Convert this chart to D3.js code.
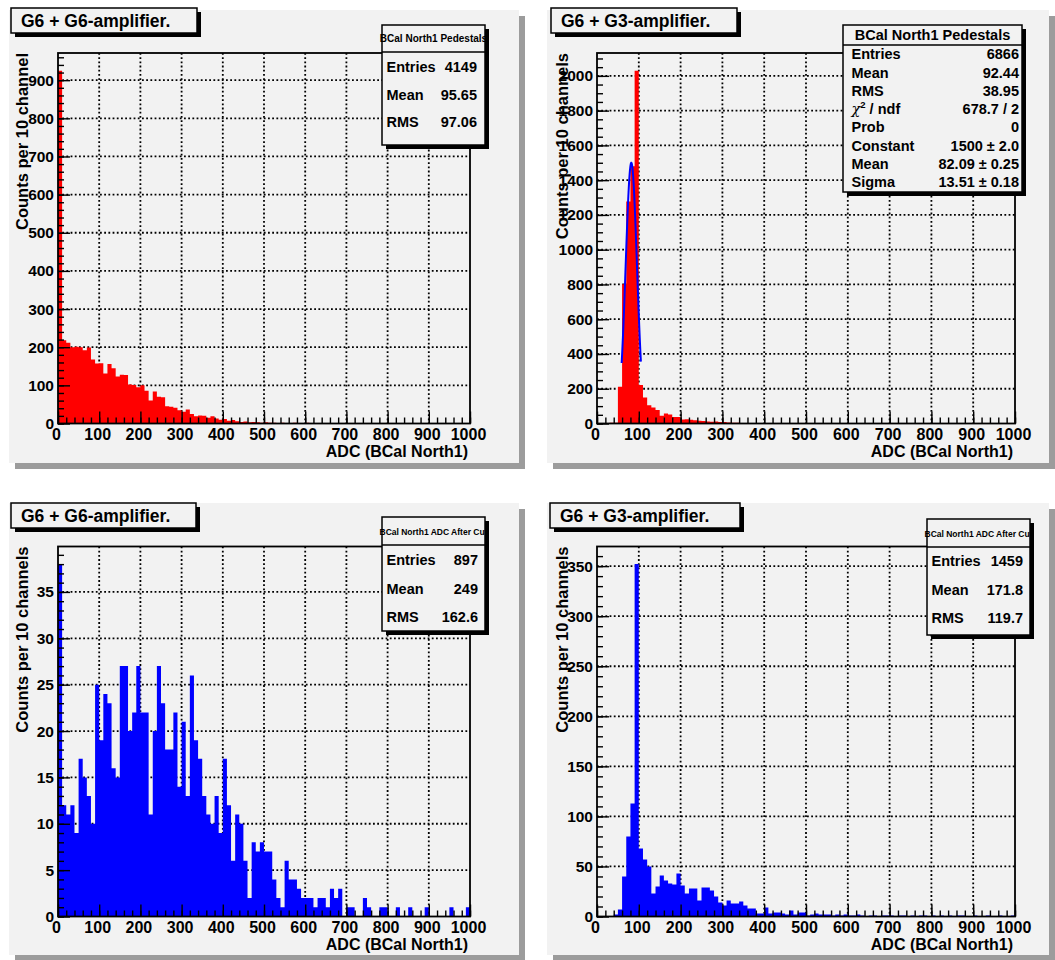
<!DOCTYPE html>
<html>
<head>
<meta charset="utf-8">
<script src="https://cdn.jsdelivr.net/npm/d3@7"></script>
<style>
  body { margin: 0; background: #fff; }
  svg text { font-family: "Liberation Sans", Arial, Helvetica, sans-serif; font-weight: bold; fill: #000; }
</style>
</head>
<body>
<svg id="c" width="1055" height="960"></svg>
<script>
// ---- data: ADC histograms, counts per 10 channels, bins 0..1000 ----
const binLow = d3.range(0, 1000, 10);

const pedestalG6 = [
  925, 218, 212, 200, 201, 200, 192, 199, 168, 157,
  158, 131, 156, 145, 123, 128, 127, 102, 101, 95,
  100, 86, 60, 84, 70, 69, 45, 44, 41, 35,
  31, 37, 25, 19, 21, 20, 15, 19, 13, 10,
  12, 7, 9, 6, 4, 5, 3, 4, 3, 2,
  3, 2, 2, 1, 2, 1, 1, 2, 1, 1,
  2, 1, 0, 1, 1, 0, 1, 0, 0, 0,
  0, 0, 0, 0, 0, 0, 0, 0, 0, 0,
  0, 0, 0, 0, 0, 0, 0, 0, 0, 0,
  0, 0, 0, 0, 0, 0, 0, 0, 0, 0
];

const pedestalG3 = [
  2, 3, 3, 4, 5, 211, 801, 1277, 1480, 2030,
  221, 150, 105, 92, 77, 44, 57, 52, 37, 37,
  23, 25, 22, 18, 16, 14, 12, 10, 11, 9,
  8, 6, 5, 4, 3, 3, 2, 2, 1, 1,
  1, 1, 0, 1, 0, 0, 1, 0, 0, 0,
  0, 0, 0, 0, 0, 0, 0, 0, 0, 0,
  0, 0, 0, 0, 0, 0, 0, 0, 0, 0,
  0, 0, 0, 0, 0, 0, 0, 0, 0, 0,
  0, 0, 0, 0, 0, 0, 0, 0, 0, 0,
  0, 0, 0, 0, 0, 0, 0, 0, 0, 0
];

const afterCutG6 = [
  38, 12, 11, 12, 9, 17, 15, 13, 10, 25,
  19, 24, 23, 16, 15, 27, 27, 20, 22, 27,
  22, 22, 11, 20, 27, 23, 18, 18, 22, 14,
  21, 13, 26, 19, 17, 13, 11, 10, 13, 9,
  17, 12, 6, 11, 10, 6, 2, 8, 7, 8,
  7, 7, 4, 2, 1, 6, 4, 4, 3, 2,
  2, 2, 1, 2, 2, 1, 3, 2, 3, 0,
  1, 1, 0, 0, 2, 1, 0, 0, 1, 1,
  0, 0, 1, 0, 0, 1, 0, 0, 0, 1,
  0, 0, 0, 0, 0, 1, 0, 0, 0, 1
];

const afterCutG3 = [
  0, 0, 0, 0, 2, 7, 40, 80, 113, 352,
  68, 57, 50, 23, 30, 41, 36, 33, 32, 43,
  31, 23, 28, 28, 16, 29, 29, 26, 20, 14,
  11, 16, 13, 13, 15, 11, 8, 8, 3, 3,
  9, 3, 4, 4, 3, 2, 6, 2, 4, 4,
  1, 2, 3, 2, 2, 2, 1, 2, 1, 2,
  1, 1, 2, 1, 0, 1, 1, 0, 1, 1,
  1, 0, 1, 1, 0, 1, 0, 1, 1, 0,
  1, 0, 1, 0, 1, 0, 1, 1, 0, 0,
  1, 0, 0, 1, 0, 0, 1, 0, 0, 1
];

// Gaussian fit to the G3 pedestal peak
const fitConstant = 1500, fitMean = 82.09, fitSigma = 13.51;
const fitRange = [59, 105];

// ---- text ----
const padTitles = ["G6 + G6-amplifier.", "G6 + G3-amplifier.", "G6 + G6-amplifier.", "G6 + G3-amplifier."];
const statTitles = ["BCal North1 Pedestals", "BCal North1 Pedestals", "BCal North1 ADC After Cut", "BCal North1 ADC After Cut"];
const yTitles = ["Counts per 10 channel", "Counts per 10 channels", "Counts per 10 channels", "Counts per 10 channels"];
const xTitle = "ADC (BCal North1)";
const xTickValues = d3.range(0, 1001, 100);

const statsPedG6 = [["Entries", "4149"], ["Mean", "95.65"], ["RMS", "97.06"]];
const statsPedG3 = [["Entries", "6866"], ["Mean", "92.44"], ["RMS", "38.95"], ["chi2", "678.7 / 2"],
                    ["Prob", "0"], ["Constant", "1500 \u00b1 2.0"], ["Mean", "82.09 \u00b1 0.25"], ["Sigma", "13.51 \u00b1 0.18"]];
const statsCutG6 = [["Entries", "897"], ["Mean", "249"], ["RMS", "162.6"]];
const statsCutG3 = [["Entries", "1459"], ["Mean", "171.8"], ["RMS", "119.7"]];

// ---- page geometry (2x2 canvas) ----
const padFill = "#f2f2f2";
const layout = [
  { pad: [9, 10, 519, 463], frame: [58, 53, 470, 423.5], yTitleX: 28,
    titleBox: [11, 8, 197, 33],
    stat: { box: [382, 25, 485, 145], titleSize: 10, titleBase: 41.5, lineY: 52, rows: [67, 95, 122], labelX: 386.5, valueX: 477 } },
  { pad: [547, 10, 1049, 463], frame: [597, 53, 1015, 423.5], yTitleX: 568,
    titleBox: [551, 8, 737, 33],
    stat: { box: [843, 25, 1022, 192], titleSize: 14.5, titleBase: 40, lineY: 45,
            rows: [54, 72.7, 91, 108.7, 127.3, 146.3, 164, 182], labelX: 851.5, valueX: 1019 } },
  { pad: [9, 503, 519, 955], frame: [58, 546.5, 470, 916.5], yTitleX: 28,
    titleBox: [11, 503, 196, 528],
    stat: { box: [382, 517, 485, 631], titleSize: 8.5, titleBase: 535, lineY: 545, rows: [560, 589, 617], labelX: 386.5, valueX: 478 } },
  { pad: [547, 503, 1049, 955], frame: [597, 546.5, 1015, 916.5], yTitleX: 568,
    titleBox: [550, 503, 740, 528],
    stat: { box: [927, 519, 1030, 635], titleSize: 8.5, titleBase: 536.5, lineY: 547, rows: [561, 590, 618], labelX: 931.5, valueX: 1023 } }
];

const panels = [
  { values: pedestalG6, color: "#ff0000", stats: statsPedG6, minor: 5, fit: false },
  { values: pedestalG3, color: "#ff0000", stats: statsPedG3, minor: 4, fit: true },
  { values: afterCutG6, color: "#0000ff", stats: statsCutG6, minor: 5, fit: false },
  { values: afterCutG3, color: "#0000ff", stats: statsCutG3, minor: 5, fit: false }
];

const svg = d3.select("#c");
svg.append("rect").attr("width", 1055).attr("height", 960).attr("fill", "#ffffff");

panels.forEach((p, i) => drawPanel(p, layout[i], i));

function styleAxis(sel, size) {
  sel.attr("font-family", null).attr("font-size", null);
  sel.select(".domain").remove();
  sel.selectAll("line").attr("stroke", "#000").attr("stroke-width", 1.4);
  sel.selectAll("text").attr("font-size", size).attr("fill", "#000");
}

function drawPanel(p, L, idx) {
  const g = svg.append("g");
  const [px0, py0, px1, py1] = L.pad;

  // pad with bevelled shadow
  g.append("rect").attr("x", px0 + 6).attr("y", py0 + 6)
    .attr("width", px1 - px0).attr("height", py1 - py0).attr("fill", "#9c9c9c");
  g.append("rect").attr("x", px0).attr("y", py0)
    .attr("width", px1 - px0).attr("height", py1 - py0).attr("fill", padFill);

  const [fx0, fy0, fx1, fy1] = L.frame;
  const x = d3.scaleLinear().domain([0, 1000]).range([fx0, fx1]);
  const yMax = d3.max(p.values) * 1.05;
  const y = d3.scaleLinear().domain([0, yMax]).range([fy1, fy0]);
  const yMajor = y.ticks(10);
  const yStep = yMajor[1] - yMajor[0];
  const yMinor = d3.range(0, yMax, yStep / p.minor);
  const xMinor = d3.range(0, 1001, 20);

  // dotted grid (under the histogram)
  const grid = g.append("g").attr("stroke", "#000").attr("stroke-width", 1.8)
    .attr("stroke-dasharray", "1.8,2.4");
  grid.selectAll("line.gx").data(xTickValues.filter(v => v > 0 && v < 1000)).join("line")
    .attr("x1", d => x(d)).attr("x2", d => x(d)).attr("y1", fy0).attr("y2", fy1);
  grid.selectAll("line.gy").data(yMajor.filter(v => v > 0)).join("line")
    .attr("x1", fx0).attr("x2", fx1).attr("y1", d => y(d)).attr("y2", d => y(d));

  // histogram as a filled step outline
  const pts = binLow.map((b, k) => ({ x: b, v: p.values[k] }));
  pts.push({ x: 1000, v: p.values[p.values.length - 1] });
  const area = d3.area().curve(d3.curveStepAfter)
    .x(d => x(d.x)).y0(y(0)).y1(d => y(d.v));
  g.append("path").datum(pts).attr("d", area).attr("fill", p.color);

  // fitted gaussian
  if (p.fit) {
    const fx = d3.range(fitRange[0], fitRange[1] + 0.01, 0.5);
    const line = d3.line().x(d => x(d)).y(d => y(fitConstant * Math.exp(-0.5 * Math.pow((d - fitMean) / fitSigma, 2))));
    g.append("path").datum(fx).attr("d", line).attr("fill", "none")
      .attr("stroke", "#0000ff").attr("stroke-width", 2);
  }

  // frame
  g.append("rect").attr("x", fx0).attr("y", fy0).attr("width", fx1 - fx0).attr("height", fy1 - fy0)
    .attr("fill", "none").attr("stroke", "#000").attr("stroke-width", 1.8);

  // axes: ticks drawn inward
  const xa = g.append("g").attr("transform", `translate(0,${fy1})`)
    .call(d3.axisBottom(x).tickValues(xTickValues).tickSize(-12).tickSizeOuter(0).tickPadding(5.5).tickFormat(d3.format("d")));
  styleAxis(xa, 16);
  xa.selectAll("text").attr("dx", -2);
  const xm = g.append("g").attr("transform", `translate(0,${fy1})`)
    .call(d3.axisBottom(x).tickValues(xMinor).tickSize(-6).tickSizeOuter(0).tickFormat(""));
  styleAxis(xm, 10);

  const ya = g.append("g").attr("transform", `translate(${fx0},0)`)
    .call(d3.axisLeft(y).tickValues(yMajor).tickSize(-12).tickSizeOuter(0).tickPadding(4).tickFormat(d3.format("d")));
  styleAxis(ya, 15.5);
  const ym = g.append("g").attr("transform", `translate(${fx0},0)`)
    .call(d3.axisLeft(y).tickValues(yMinor).tickSize(-6).tickSizeOuter(0).tickFormat(""));
  styleAxis(ym, 10);

  // axis titles
  g.append("text").attr("x", fx1 - 2).attr("y", fy1 + 33).attr("text-anchor", "end")
    .attr("font-size", 16).text(xTitle);
  g.append("text").attr("transform", `translate(${L.yTitleX},${fy0}) rotate(-90)`)
    .attr("text-anchor", "end").attr("font-size", 16.5).text(yTitles[idx]);

  // statistics box
  const S = L.stat;
  const [sx0, sy0, sx1, sy1] = S.box;
  const sb = g.append("g");
  sb.append("rect").attr("x", sx0).attr("y", sy0).attr("width", sx1 - sx0).attr("height", sy1 - sy0)
    .attr("fill", padFill);
  sb.append("text").attr("x", (sx0 + sx1) / 2).attr("y", S.titleBase).attr("text-anchor", "middle")
    .attr("font-size", S.titleSize).text(statTitles[idx]);
  sb.append("line").attr("x1", sx0).attr("x2", sx1).attr("y1", S.lineY).attr("y2", S.lineY)
    .attr("stroke", "#000").attr("stroke-width", 1.5);
  p.stats.forEach((row, r) => {
    const yy = S.rows[r] + 5;
    const lab = sb.append("text").attr("x", S.labelX).attr("y", yy).attr("font-size", 14.5);
    if (row[0] === "chi2") {
      lab.append("tspan").attr("font-style", "italic").attr("font-weight", "normal")
        .attr("font-family", "DejaVu Serif, serif").text("\u03c7");
      lab.append("tspan").attr("font-size", 9.5).attr("dy", -6).text("2");
      lab.append("tspan").attr("dy", 6).text(" / ndf");
    } else {
      lab.text(row[0]);
    }
    sb.append("text").attr("x", S.valueX).attr("y", yy).attr("text-anchor", "end")
      .attr("font-size", 14.5).text(row[1]);
  });
  sb.append("rect").attr("x", sx0).attr("y", sy0).attr("width", sx1 - sx0).attr("height", sy1 - sy0)
    .attr("fill", "none").attr("stroke", "#000").attr("stroke-width", 1.5);
  // drop shadow
  sb.append("rect").attr("x", sx1).attr("y", sy0 + 4).attr("width", 4).attr("height", sy1 - sy0)
    .attr("fill", "#000");
  sb.append("rect").attr("x", sx0 + 4).attr("y", sy1).attr("width", sx1 - sx0).attr("height", 4)
    .attr("fill", "#000");

  // pad title box
  const [tx0, ty0, tx1, ty1] = L.titleBox;
  g.append("rect").attr("x", tx0 + 4).attr("y", ty0 + 4).attr("width", tx1 - tx0).attr("height", ty1 - ty0)
    .attr("fill", "#000");
  g.append("rect").attr("x", tx0).attr("y", ty0).attr("width", tx1 - tx0).attr("height", ty1 - ty0)
    .attr("fill", padFill).attr("stroke", "#000").attr("stroke-width", 1.5);
  g.append("text").attr("x", tx0 + 10).attr("y", ty0 + 18.5).attr("font-size", 17.5).text(padTitles[idx]);
}
</script>
</body>
</html>
